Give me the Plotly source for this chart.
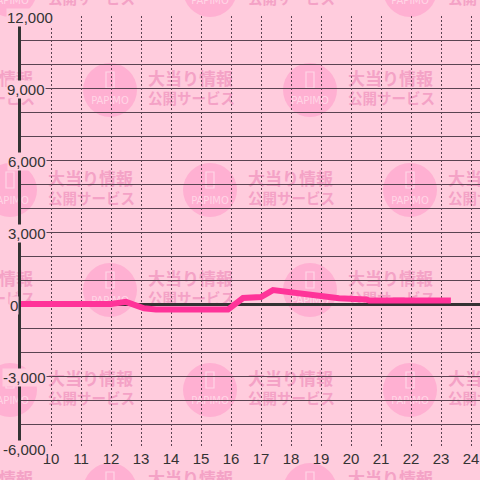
import plotly.graph_objects as go

# ---- data ----
hours = [9, 12.0, 12.5, 13.1, 13.5, 15.0, 15.9, 16.4, 17.0, 17.4, 18.2, 19.0, 19.6, 20.5, 20.6, 23.33]
values = [0, 0, 90, -180, -230, -230, -230, 250, 290, 580, 470, 380, 240, 190, 150, 150]
x_ticks = list(range(10, 25))
y_ticks = [12000, 9000, 6000, 3000, 0, -3000, -6000]
y_tick_text = ["12,000", "9,000", "6,000", "3,000", "0", "-3,000", "-6,000"]

# ---- layout geometry (pixels) ----
W, H = 480, 480
L, R, T, B = 21, 0, 16, 32
PW, PH = W - L - R, H - T - B
BG = "#ffccdd"
DARK = "#333333"
GRID = "#5a4452"


def px(x):
    return (x - L) / PW


def py(y):
    return (H - B - y) / PH


fig = go.Figure()
fig.add_trace(go.Scatter(
    x=hours, y=values, mode="lines",
    line=dict(color="#ff3399", width=6),
    hoverinfo="skip", showlegend=False,
))

# ---- watermark pattern (decorative) ----
shapes = []
centers = []
for row, cy in enumerate([-10, 90, 190, 290, 390, 490]):
    xs = [10, 210, 410] if row % 2 == 0 else [-90, 110, 310]
    for cx in xs:
        centers.append((cx, cy))

CIRC = "#ffb0d2"
TXT = "#f4a2c6"
LIGHT = "#ffd6e6"
for cx, cy in centers:
    r = 27
    shapes.append(dict(type="circle", xref="paper", yref="paper", layer="below",
                       x0=px(cx - r), x1=px(cx + r), y0=py(cy + r), y1=py(cy - r),
                       fillcolor=CIRC, line=dict(width=0)))
    # phone icon
    shapes.append(dict(type="rect", xref="paper", yref="paper", layer="below",
                       x0=px(cx - 4), x1=px(cx + 4), y0=py(cy - 2), y1=py(cy - 18),
                       fillcolor="rgba(0,0,0,0)", line=dict(color=LIGHT, width=1.2)))
    # PAPIMO label
    shapes.append(dict(type="rect", xref="paper", yref="paper", layer="below",
                       x0=px(cx - 25), x1=px(cx + 25), y0=py(cy + 16), y1=py(cy + 2),
                       fillcolor="rgba(0,0,0,0)", line=dict(width=0),
                       label=dict(text="PAPIMO", textposition="middle center", padding=0,
                                  font=dict(family="DejaVu Sans", size=10, color=LIGHT))))
    # text lines
    shapes.append(dict(type="rect", xref="paper", yref="paper", layer="below",
                       x0=px(cx + 35), x1=px(cx + 125), y0=py(cy - 1), y1=py(cy - 19),
                       fillcolor="rgba(0,0,0,0)", line=dict(width=0),
                       label=dict(text="大当り情報", textposition="middle left", padding=0,
                                  font=dict(family="Noto Sans CJK JP", size=17, color=TXT, weight="bold"))))
    shapes.append(dict(type="rect", xref="paper", yref="paper", layer="below",
                       x0=px(cx + 35), x1=px(cx + 125), y0=py(cy + 19), y1=py(cy + 1),
                       fillcolor="rgba(0,0,0,0)", line=dict(width=0),
                       label=dict(text="公開サービス", textposition="middle left", padding=0,
                                  font=dict(family="Noto Sans CJK JP", size=14.5, color=TXT, weight="bold"))))

# ---- y tick labels as annotations with background ----
left_edges = {"12,000": 6, "9,000": 6, "6,000": 7, "3,000": 7, "0": 9, "-3,000": 2, "-6,000": 2}
annotations = []
for v, t in zip(y_ticks, y_tick_text):
    annotations.append(dict(
        x=px(left_edges[t]), xref="paper", y=v, yref="y", text=t, showarrow=False,
        xanchor="left", yanchor="middle", yshift=-1,
        font=dict(family="Liberation Sans", size=15, color=DARK),
        bgcolor=BG, borderpad=0,
    ))

fig.update_layout(
    width=W, height=H,
    margin=dict(l=L, r=R, t=T, b=B, pad=0, autoexpand=False),
    paper_bgcolor=BG, plot_bgcolor="rgba(0,0,0,0)",
    shapes=shapes, annotations=annotations,
    showlegend=False,
    font=dict(family="Liberation Sans", size=15, color=DARK),
)
fig.update_xaxes(
    range=[9, 9 + PW / 30], tickvals=x_ticks, ticktext=[str(t) for t in x_ticks],
    showgrid=True, gridcolor=GRID, gridwidth=1, griddash="2px,2px",
    zeroline=False, showline=False, ticks="", automargin=False,
    tickfont=dict(family="Liberation Sans", size=15, color=DARK),
    fixedrange=True,
)
fig.update_yaxes(
    range=[-6000, 12000], dtick=1000, tick0=0,
    showgrid=True, gridcolor=GRID, gridwidth=1,
    zeroline=True, zerolinecolor=DARK, zerolinewidth=3,
    showline=True, linecolor=DARK, linewidth=3,
    showticklabels=False, ticks="", automargin=False,
    fixedrange=True,
)

fig.write_html("out.html", config={"displayModeBar": False},
               post_script="document.body.style.margin='0';document.body.style.background='%s';" % BG)
